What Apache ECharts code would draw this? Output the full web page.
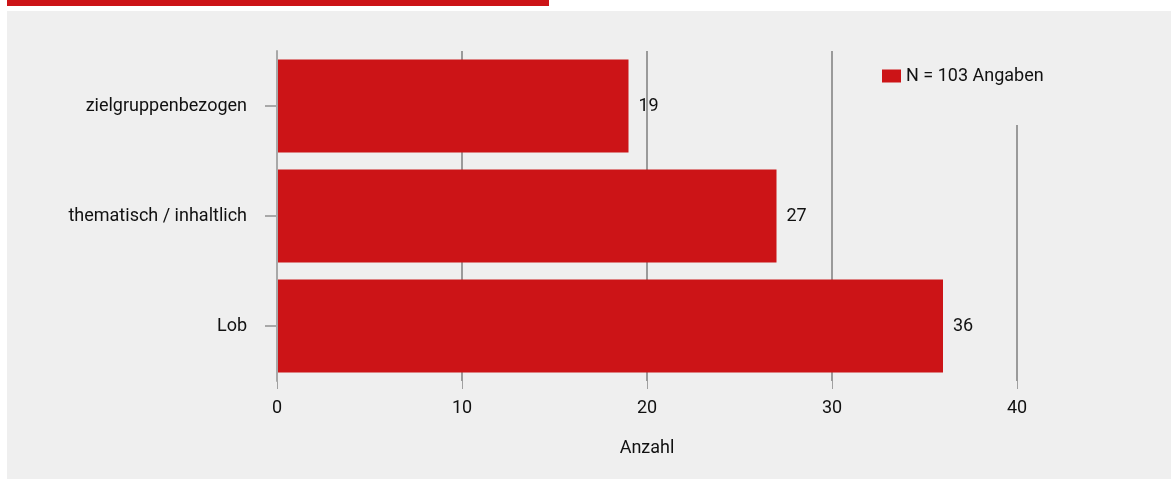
<!DOCTYPE html>
<html><head><meta charset="utf-8">
<script src="https://cdn.jsdelivr.net/npm/echarts@6/dist/echarts.min.js"></script>
<style>html,body{margin:0;padding:0;background:#fff}#c{width:1171px;height:479px}</style>
</head><body><div id="c"></div>
<script>
const categories = ['Lob', 'thematisch / inhaltlich', 'zielgruppenbezogen'];
const values = [36, 27, 19];
const seriesName = 'N = 103 Angaben';
const axisName = 'Anzahl';
const FONT = "Roboto, 'Liberation Sans', Arial, sans-serif";
const FS = 18;
const chart = echarts.init(document.getElementById('c'), null, {renderer: 'canvas'});
chart.setOption({
  animation: false,
  textStyle: {fontFamily: FONT},
  graphic: [
    {type: 'rect', z: -10, shape: {x: 7, y: 11, width: 1164, height: 468}, style: {fill: '#efefef'}},
    {type: 'rect', z: -10, shape: {x: 7, y: 0, width: 542, height: 6}, style: {fill: '#cc1417'}}
  ],
  grid: {left: 277, right: 154, top: 51, bottom: 98, containLabel: false},
  legend: {
    data: [seriesName], left: 866, top: 51,
    padding: [16, 16, 40, 16],
    backgroundColor: '#efefef',
    icon: 'rect',
    itemWidth: 19, itemHeight: 13, itemGap: 5,
    textStyle: {fontFamily: FONT, fontSize: FS, color: '#111', padding: [0, 0, 0, 0]}
  },
  xAxis: {
    type: 'value', min: 0, max: 40, interval: 10,
    name: axisName, nameLocation: 'middle', nameGap: 58,
    nameTextStyle: {fontFamily: FONT, fontSize: FS, color: '#111'},
    axisLine: {show: false},
    axisTick: {show: true, length: 8, lineStyle: {color: '#a0a0a0', width: 1}},
    axisLabel: {margin: 18, fontSize: FS, color: '#111', fontFamily: FONT},
    splitLine: {show: true, lineStyle: {color: '#9a9a9a', width: 2}}
  },
  yAxis: {
    type: 'category', data: categories, z: 3,
    axisLine: {show: true, lineStyle: {color: '#a8a8a8', width: 2}},
    axisTick: {show: true, alignWithLabel: true, length: 12, lineStyle: {color: '#a8a8a8', width: 2}},
    axisLabel: {margin: 30, fontSize: FS, color: '#111', fontFamily: FONT, padding: [3, 0, 0, 0]},
    splitLine: {show: false}
  },
  series: [{
    name: seriesName, type: 'bar', data: values, barWidth: 93,
    itemStyle: {color: '#cc1417'},
    label: {show: true, position: 'right', distance: 10, fontSize: FS, color: '#111', fontFamily: FONT, padding: [3, 0, 0, 0]}
  }]
});
</script></body></html>
